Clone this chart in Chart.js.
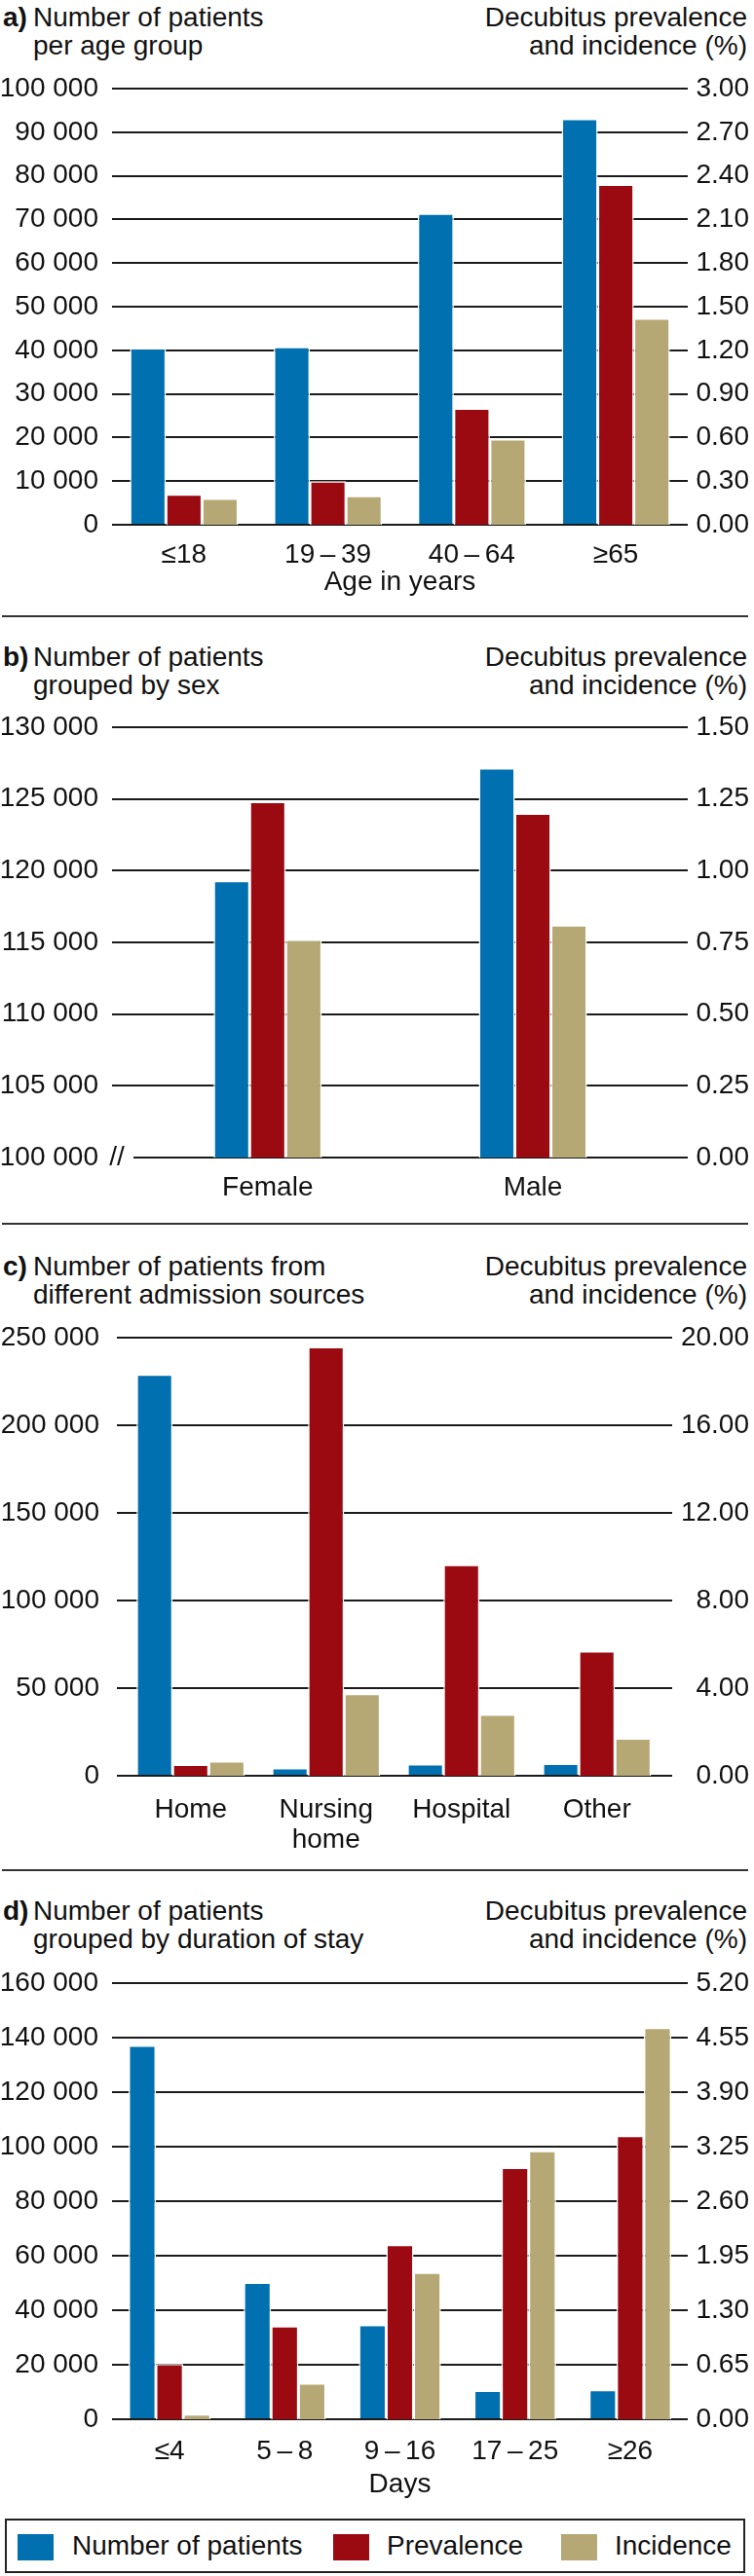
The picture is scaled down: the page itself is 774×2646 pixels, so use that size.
<!DOCTYPE html>
<html>
<head>
<meta charset="utf-8">
<script src="https://cdn.jsdelivr.net/npm/chart.js@4.4.0/dist/chart.umd.min.js"></script>
<style>
  body { margin: 0; background: #fff; }
  #page { position: relative; width: 774px; height: 2646px; font-family: "Liberation Sans", Arial, sans-serif; color: #111; overflow: hidden; }
  .t { position: absolute; font-size: 28px; line-height: 29px; white-space: nowrap; }
  .r { text-align: right; }
  .sep { position: absolute; left: 2px; width: 766px; height: 0; border-top: 2px solid #333; }
  canvas { position: absolute; left: 0; }
  #legend { position: absolute; left: 5px; top: 2587px; width: 756px; height: 52px; border: 2px solid #222; }
  .sw { position: absolute; top: 14px; width: 37px; height: 27px; }
  .lt { position: absolute; top: 10px; font-size: 28px; line-height: 32px; white-space: nowrap; }
</style>
</head>
<body>
<div id="page">
  <!-- titres des panneaux -->
  <div class="t" style="left:3px;top:3px;"><b>a)</b></div>
  <div class="t" style="left:34px;top:3px;">Number of patients<br>per age group</div>
  <div class="t r" style="right:7px;top:3px;">Decubitus prevalence<br>and incidence (%)</div>
  <div class="sep" style="top:632px;"></div>

  <div class="t" style="left:3px;top:660px;"><b>b)</b></div>
  <div class="t" style="left:34px;top:660px;">Number of patients<br>grouped by sex</div>
  <div class="t r" style="right:7px;top:660px;">Decubitus prevalence<br>and incidence (%)</div>
  <div class="sep" style="top:1256px;"></div>

  <div class="t" style="left:3px;top:1286px;"><b>c)</b></div>
  <div class="t" style="left:34px;top:1286px;">Number of patients from<br>different admission sources</div>
  <div class="t r" style="right:7px;top:1286px;">Decubitus prevalence<br>and incidence (%)</div>
  <div class="sep" style="top:1920px;"></div>

  <div class="t" style="left:3px;top:1948px;"><b>d)</b></div>
  <div class="t" style="left:34px;top:1948px;">Number of patients<br>grouped by duration of stay</div>
  <div class="t r" style="right:7px;top:1948px;">Decubitus prevalence<br>and incidence (%)</div>

  <canvas id="chartA"></canvas>
  <canvas id="chartB"></canvas>
  <canvas id="chartC"></canvas>
  <canvas id="chartD"></canvas>

  <div id="legend">
    <div class="sw" style="left:11px;background:#0070b0;"></div>
    <div class="lt" style="left:67px;">Number of patients</div>
    <div class="sw" style="left:335px;background:#9a0a10;"></div>
    <div class="lt" style="left:390px;">Prevalence</div>
    <div class="sw" style="left:569px;background:#b6a874;"></div>
    <div class="lt" style="left:624px;">Incidence</div>
  </div>
</div>

<script>
// DONNÉES
const ageGroups = ['≤18', '19\u2009–\u200939', '40\u2009–\u200964', '≥65'];
const agePatients = [40500, 40800, 71400, 93100];
const agePrevalence = [0.21, 0.30, 0.80, 2.34];
const ageIncidence = [0.18, 0.20, 0.59, 1.42];

const sexes = ['Female', 'Male'];
const sexPatients = [119300, 127150];
const sexPrevalence = [1.24, 1.20];
const sexIncidence = [0.76, 0.81];

const sources = ['Home', ['Nursing', 'home'], 'Hospital', 'Other'];
const sourcePatients = [229000, 4500, 6600, 7000];
const sourcePrevalence = [0.51, 19.58, 9.63, 5.69];
const sourceIncidence = [0.67, 3.74, 2.80, 1.71];

const stays = ['≤4', '5\u2009–\u20098', '9\u2009–\u200916', '17\u2009–\u200925', '≥26'];
const stayPatients = [137100, 50200, 34600, 10500, 10800];
const stayPrevalence = [0.66, 1.11, 2.08, 3.00, 3.38];
const stayIncidence = [0.06, 0.43, 1.75, 3.20, 4.67];

const BLUE = '#0070b0';
const RED = '#9a0a10';
const TAN = '#b6a874';
const GRID = '#1a1a1a';
const FONT = '"Liberation Sans", Arial, sans-serif';

Chart.defaults.font.family = FONT;
Chart.defaults.color = '#111';

// espace comme séparateur de milliers
function fmtCount(v) {
    return String(Math.round(v)).replace(/\B(?=(\d{3})+(?!\d))/g, ' ');
}

// trait "//" et ligne de base coupée (panneau b)
const breakMark = {
    id: 'breakMark',
    beforeDatasetsDraw(chart, args, o) {
        if (!o || !o.on) return;
        const { ctx, scales: { y }, chartArea } = chart;
        const py = y.getPixelForValue(y.min);
        ctx.save();
        ctx.strokeStyle = GRID;
        ctx.lineWidth = 2;
        ctx.beginPath();
        ctx.moveTo(o.lineStart, py);
        ctx.lineTo(chartArea.right, py);
        ctx.stroke();
        ctx.fillStyle = '#111';
        ctx.font = '28px ' + FONT;
        ctx.textAlign = 'center';
        ctx.textBaseline = 'middle';
        ctx.fillText('//', o.markX, py);
        ctx.restore();
    }
};

function makePanel(id, p) {
    const canvas = document.getElementById(id);
    const canvasTop = p.plotTop - 20;
    const height = (p.plotBottom - canvasTop) + p.xAxisH;
    canvas.width = 774;
    canvas.height = height;
    canvas.style.top = canvasTop + 'px';

    const pts = arr => arr.map((v, i) => ({ x: i, y: v }));

    return new Chart(canvas, {
        type: 'bar',
        data: {
            datasets: [
                { label: 'Number of patients', data: pts(p.patients), backgroundColor: BLUE, yAxisID: 'y' },
                { label: 'Prevalence', data: pts(p.prevalence), backgroundColor: RED, yAxisID: 'y1' },
                { label: 'Incidence', data: pts(p.incidence), backgroundColor: TAN, yAxisID: 'y1' }
            ]
        },
        plugins: [breakMark],
        options: {
            responsive: false,
            animation: false,
            layout: { padding: { top: 20, right: 5, left: 0, bottom: 0 } },
            datasets: {
                bar: {
                    borderColor: '#fff',
                    borderWidth: 1.5,
                    borderSkipped: 'bottom',
                    categoryPercentage: p.catPct,
                    barPercentage: 1
                }
            },
            plugins: {
                legend: { display: false },
                tooltip: { enabled: false },
                breakMark: p.broken ? { on: true, lineStart: 137, markX: 120 } : { on: false }
            },
            scales: {
                x: {
                    type: 'linear',
                    offset: false,
                    min: p.xMin,
                    max: p.xMax,
                    grid: { display: false },
                    border: { display: false },
                    afterBuildTicks: s => { s.ticks = p.labels.map((_, i) => ({ value: i })); },
                    // hauteur fixe, sans marge latérale ajoutée par les étiquettes
                    afterFit: s => { s.height = p.xAxisH; s.paddingLeft = 0; s.paddingRight = 0; },
                    ticks: {
                        callback: v => p.labels[v],
                        padding: p.tickPad,
                        autoSkip: false,
                        maxRotation: 0,
                        font: { size: 28, lineHeight: 1.1 },
                        color: '#111'
                    },
                    title: {
                        display: !!p.xTitle,
                        text: p.xTitle || '',
                        font: { size: 28 },
                        color: '#111',
                        padding: { top: 0, bottom: 0 }
                    }
                },
                y: {
                    position: 'left',
                    min: p.yMin,
                    max: p.yMax,
                    afterFit: s => { s.width = p.plotLeft; s.paddingTop = 0; s.paddingBottom = 0; },
                    ticks: {
                        stepSize: p.yStep,
                        callback: v => fmtCount(v),
                        padding: p.leftPad,
                        font: { size: 28 },
                        color: '#111'
                    },
                    grid: {
                        drawTicks: false,
                        lineWidth: 2,
                        color: c => (p.broken && c.tick && c.tick.value === p.yMin) ? 'rgba(0,0,0,0)' : GRID
                    },
                    border: { display: false }
                },
                y1: {
                    position: 'right',
                    min: 0,
                    max: p.y1Max,
                    afterFit: s => { s.width = 769 - p.plotRight; s.paddingTop = 0; s.paddingBottom = 0; },
                    ticks: {
                        stepSize: p.y1Step,
                        callback: v => v.toFixed(2),
                        crossAlign: 'far',
                        font: { size: 28 },
                        color: '#111'
                    },
                    grid: { display: false },
                    border: { display: false }
                }
            }
        }
    });
}

document.addEventListener('DOMContentLoaded', () => {
    makePanel('chartA', {
        labels: ageGroups, patients: agePatients, prevalence: agePrevalence, incidence: ageIncidence,
        yMin: 0, yMax: 100000, yStep: 10000, y1Max: 3, y1Step: 0.3,
        xMin: -0.5, xMax: 3.5, catPct: 0.752,
        plotTop: 91, plotBottom: 539, plotLeft: 115, plotRight: 706,
        leftPad: 14, tickPad: 8, xAxisH: 76, xTitle: 'Age in years'
    });

    makePanel('chartB', {
        labels: sexes, patients: sexPatients, prevalence: sexPrevalence, incidence: sexIncidence,
        yMin: 100000, yMax: 130000, yStep: 5000, y1Max: 1.5, y1Step: 0.25,
        xMin: -0.587, xMax: 1.584, catPct: 0.408,
        plotTop: 747, plotBottom: 1189, plotLeft: 115, plotRight: 706,
        leftPad: 14, tickPad: 8, xAxisH: 50, broken: true
    });

    makePanel('chartC', {
        labels: sources, patients: sourcePatients, prevalence: sourcePrevalence, incidence: sourceIncidence,
        yMin: 0, yMax: 250000, yStep: 50000, y1Max: 20, y1Step: 4,
        xMin: -0.545, xMax: 3.556, catPct: 0.80,
        plotTop: 1374, plotBottom: 1824, plotLeft: 120, plotRight: 690,
        leftPad: 18, tickPad: 12, xAxisH: 80
    });

    makePanel('chartD', {
        labels: stays, patients: stayPatients, prevalence: stayPrevalence, incidence: stayIncidence,
        yMin: 0, yMax: 160000, yStep: 20000, y1Max: 5.2, y1Step: 0.65,
        xMin: -0.5, xMax: 4.5, catPct: 0.713,
        plotTop: 2037, plotBottom: 2485, plotLeft: 115, plotRight: 706,
        leftPad: 14, tickPad: 10, xAxisH: 84, xTitle: 'Days'
    });
});
</script>
</body>
</html>
